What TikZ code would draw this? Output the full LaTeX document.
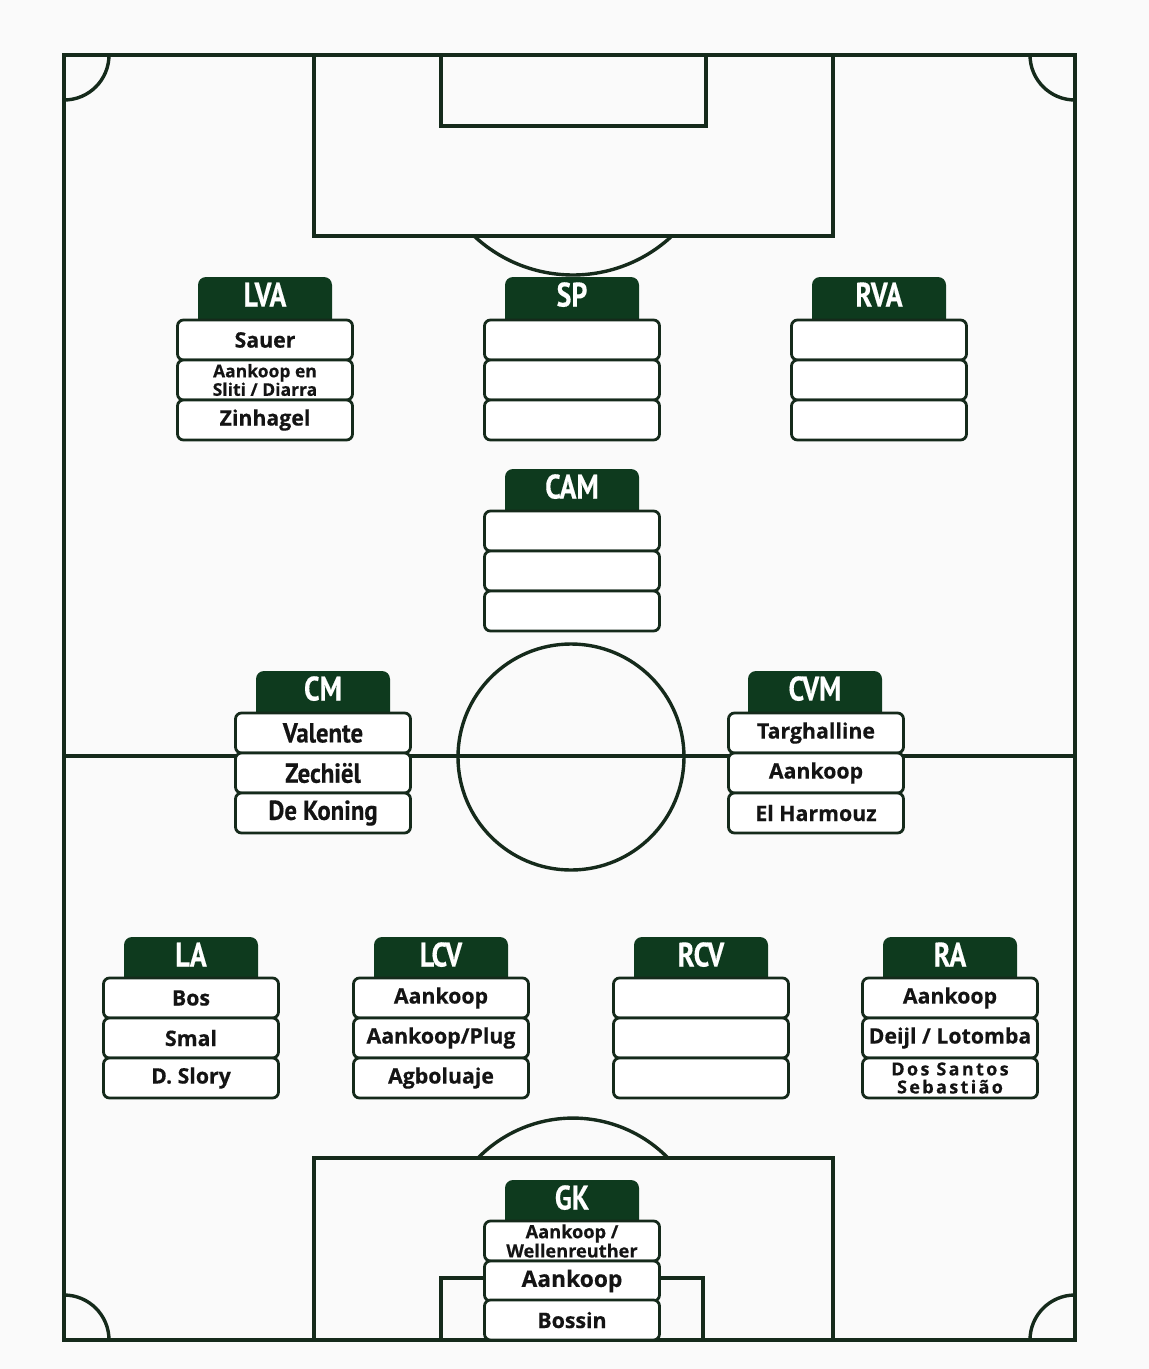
\documentclass[tikz,border=0pt]{standalone}
\usepackage{fontspec}
\setmainfont{Open Sans}[FakeBold=0.4]
\newfontfamily\hfont[FakeStretch=0.82,FakeBold=0.3]{PT Sans}
\newfontfamily\cfont[FakeStretch=0.9,FakeBold=0.4]{PT Sans}
\definecolor{pline}{RGB}{21,42,27}
\definecolor{phead}{RGB}{14,58,30}
\definecolor{pbg}{RGB}{250,250,250}
\definecolor{ptext}{RGB}{20,20,20}
\tikzset{
  pitch/.style={draw=pline, line width=3.4pt},
  hdrbox/.style={fill=phead, rounded corners=8pt, minimum width=134pt,
    text height=25pt, text depth=20pt, inner ysep=4.5pt, inner xsep=0pt,
    anchor=north, text=white, outer sep=0pt,
    font=\hfont\bfseries\fontsize{34}{34}\selectfont},
  rowbox/.style={draw=pline, fill=white, line width=2.8pt, rounded corners=6pt,
    minimum width=175pt, minimum height=40pt, inner sep=0pt, outer sep=0pt,
    align=center, text=ptext,
    font=\bfseries\fontsize{21.3}{21}\selectfont},
  smalltxt/.style={font=\bfseries\fontsize{17.5}{15.5}\selectfont},
  gktxt/.style={font=\bfseries\fontsize{18.2}{16.5}\selectfont},
  spacedtxt/.style={font=\bfseries\addfontfeature{LetterSpace=13}\fontsize{18}{18}\selectfont},
  condtxt/.style={font=\cfont\bfseries\fontsize{27.5}{27}\selectfont},
}
\newcommand\phdr[4]{\node[hdrbox] (#1) at (#2,#3) {#4};}
\newcommand\prow[5]{\node[rowbox,#4] (#1) at (#2,#3) {#5};}
\begin{document}
\begin{tikzpicture}[x=1pt,y=-1pt]
\useasboundingbox[fill=pbg] (0,0) rectangle (1149,1369);
% pitch
\draw[pitch] (64,55) rectangle (1075,1340);
\draw[pitch] (109,55) arc[start angle=0,end angle=90,radius=45];
\draw[pitch] (1030,55) arc[start angle=180,end angle=90,radius=45];
\draw[pitch] (109,1340) arc[start angle=0,end angle=-90,radius=45];
\draw[pitch] (1030,1340) arc[start angle=180,end angle=270,radius=45];
\draw[pitch] (314,55) rectangle (833,236);
\draw[pitch] (441,55) rectangle (706,126);
\draw[pitch] (671.9,236) arc[start angle=46.98,end angle=133.02,radius=145];
\draw[pitch] (64,756) -- (1075,756);
\draw[pitch] (571,757) circle[radius=113];
\draw[pitch] (314,1158) rectangle (833,1340);
\draw[pitch] (441,1278) rectangle (703,1340);
\draw[pitch] (668,1158) arc[start angle=-44.4,end angle=-135.6,radius=133];
% LVA
\phdr{lva}{265}{277}{LVA}
\prow{lva1}{265}{340}{}{Sauer}
\prow{lva2}{265}{380}{smalltxt}{Aankoop en\\Sliti / Diarra}
\prow{lva3}{265}{420}{}{Zinhagel}
% SP
\phdr{sp}{572}{277}{SP}
\prow{sp1}{572}{340}{}{}
\prow{sp2}{572}{380}{}{}
\prow{sp3}{572}{420}{}{}
% RVA
\phdr{rva}{879}{277}{RVA}
\prow{rva1}{879}{340}{}{}
\prow{rva2}{879}{380}{}{}
\prow{rva3}{879}{420}{}{}
% CAM
\phdr{cam}{572}{469}{CAM}
\prow{cam1}{572}{531}{}{}
\prow{cam2}{572}{571}{}{}
\prow{cam3}{572}{611}{}{}
% CM
\phdr{cm}{323}{671}{CM}
\prow{cm1}{323}{733}{condtxt}{Valente}
\prow{cm2}{323}{773}{condtxt}{Zechiël}
\prow{cm3}{323}{813}{condtxt}{De Koning}
% CVM
\phdr{cvm}{815}{671}{CVM}
\prow{cvm1}{816}{733}{}{Targhalline}
\prow{cvm2}{816}{773}{}{Aankoop}
\prow{cvm3}{816}{813}{}{El Harmouz}
% LA
\phdr{la}{191}{937}{LA}
\prow{la1}{191}{998}{}{Bos}
\prow{la2}{191}{1038}{}{Smal}
\prow{la3}{191}{1078}{}{D. Slory}
% LCV
\phdr{lcv}{441}{937}{LCV}
\prow{lcv1}{441}{998}{}{Aankoop}
\prow{lcv2}{441}{1038}{}{Aankoop/Plug}
\prow{lcv3}{441}{1078}{}{Agboluaje}
% RCV
\phdr{rcv}{701}{937}{RCV}
\prow{rcv1}{701}{998}{}{}
\prow{rcv2}{701}{1038}{}{}
\prow{rcv3}{701}{1078}{}{}
% RA
\phdr{ra}{950}{937}{RA}
\prow{ra1}{950}{998}{}{Aankoop}
\prow{ra2}{950}{1038}{}{Deijl / Lotomba}
\prow{ra3}{950}{1078}{spacedtxt}{Dos Santos\\Sebastião}
% GK
\phdr{gk}{572}{1180}{GK}
\prow{gk1}{572}{1241}{gktxt}{Aankoop /\\Wellenreuther}
\prow{gk2}{572}{1281}{font=\bfseries\fontsize{22.8}{22}\selectfont}{Aankoop}
\prow{gk3}{572}{1320}{}{Bossin}
\end{tikzpicture}
\end{document}
